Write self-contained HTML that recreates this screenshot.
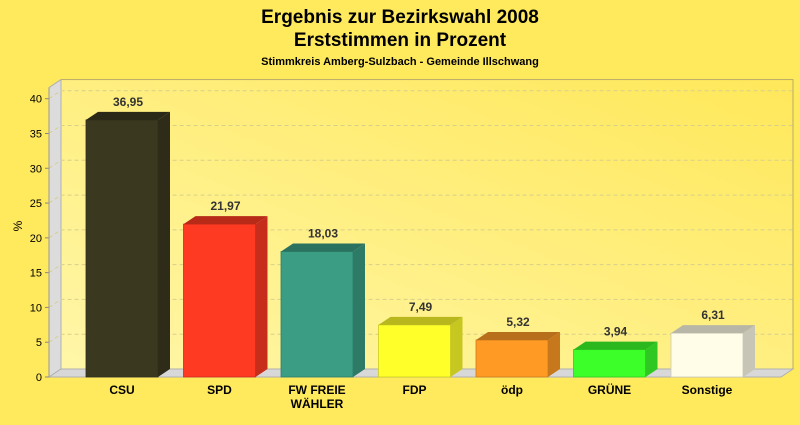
<!DOCTYPE html>
<html><head><meta charset="utf-8">
<style>
html,body{margin:0;padding:0;}
body{width:800px;height:420px;overflow:hidden;background:#ffe95c;font-family:"Liberation Sans",sans-serif;}
svg text{font-family:"Liberation Sans",sans-serif;}
</style></head>
<body>
<svg id="chart" width="800" height="420" xmlns="http://www.w3.org/2000/svg">
<defs>
<linearGradient id="bg" x1="0" y1="1" x2="1" y2="0">
<stop offset="0" stop-color="#fff6a8"/><stop offset="1" stop-color="#ffe85a"/>
</linearGradient>
</defs>
<text x="400" y="23" text-anchor="middle" font-size="19" font-weight="bold">Ergebnis zur Bezirkswahl 2008</text>
<text x="400" y="46" text-anchor="middle" font-size="19" font-weight="bold">Erststimmen in Prozent</text>
<text x="400" y="65" text-anchor="middle" font-size="11" font-weight="bold">Stimmkreis Amberg-Sulzbach - Gemeinde Illschwang</text>
<g id="plot"></g>
</svg>
<script>
const categories = ["CSU","SPD","FW FREIE|WÄHLER","FDP","ödp","GRÜNE","Sonstige"];
const values = [36.95,21.97,18.03,7.49,5.32,3.94,6.31];
const valueLabels = ["36,95","21,97","18,03","7,49","5,32","3,94","6,31"];
const colors = ["#3b3820","#ff3a22","#3a9d84","#ffff2a","#ff9a25","#3cff2a","#fffde8"];
const ticks = [0,5,10,15,20,25,30,35,40];

const NS="http://www.w3.org/2000/svg";
const g=document.getElementById('plot');
const x0=49,x1=781,dx=12,dy=-8,yBase=377,yTop=98.7,vMax=40;
const y=v=>yBase-(v/vMax)*(yBase-yTop);
const slot=97.5, firstCenter=x0+73;
const bw=72;
function el(t,a){const e=document.createElementNS(NS,t);for(const k in a)e.setAttribute(k,a[k]);g.appendChild(e);return e;}
function shade(c,f){const n=parseInt(c.slice(1),16);let r=n>>16,gg=(n>>8)&255,b=n&255;return `rgb(${Math.round(r*f)},${Math.round(gg*f)},${Math.round(b*f)})`;}

let e=el('rect',{x:x0+dx,y:y(41.6)+dy,width:x1-x0,height:yBase-y(41.6),fill:'url(#bg)',stroke:'#b9ad6a','stroke-width':1});


e=el('polygon',{points:`${x0},${yBase} ${x0},${y(41.6)} ${x0+dx},${y(41.6)+dy} ${x0+dx},${yBase+dy}`,fill:'#dcdcdc',stroke:'#b0b0b0','stroke-width':1});


e=el('polygon',{points:`${x0},${yBase} ${x0+dx},${yBase+dy} ${x1+dx},${yBase+dy} ${x1},${yBase}`,fill:'#d8d8d8',stroke:'#b0b0b0','stroke-width':1});


ticks.forEach(t=>{
 if(t>0){const l=el('polyline',{points:`${x0},${y(t)} ${x0+dx},${y(t)+dy} ${x1+dx},${y(t)+dy}`,fill:'none',stroke:'#d8cf8a','stroke-dasharray':'4,3','stroke-width':1});
 
 }
 const tk=el('line',{x1:x0-4,y1:y(t),x2:x0,y2:y(t),stroke:'#888'});
 
 
 const tx=el('text',{x:x0-7,y:y(t)+4,'text-anchor':'end','font-size':11});
 tx.textContent=t;
 
 
});
e=el('line',{x1:x0,y1:yBase,x2:x0,y2:y(41.6),stroke:'#999'});


const yt=el('text',{x:22,y:226,'text-anchor':'middle','font-size':12,transform:'rotate(-90 22 226)'});
yt.textContent='%';



categories.forEach((c,i)=>{
 const cx=firstCenter+slot*i;
 const bx=cx-bw/2, top=y(values[i]);
 const col=colors[i];
 const grp=document.createElementNS(NS,'g');g.appendChild(grp);
 
 
 const mk=(t,a)=>{const q=document.createElementNS(NS,t);for(const k in a)q.setAttribute(k,a[k]);grp.appendChild(q);return q;};
 mk('rect',{x:bx,y:top,width:bw,height:yBase-top,fill:col,stroke:shade(col,0.8),'stroke-width':0.8});
 mk('polygon',{points:`${bx+bw},${top} ${bx+bw+dx},${top+dy} ${bx+bw+dx},${yBase+dy} ${bx+bw},${yBase}`,fill:shade(col,0.78)});
 mk('polygon',{points:`${bx},${top} ${bx+dx},${top+dy} ${bx+bw+dx},${top+dy} ${bx+bw},${top}`,fill:shade(col,0.72)});
 const vl=el('text',{x:cx+6,y:top+dy-6,'text-anchor':'middle','font-size':12,'font-weight':'bold',fill:'#333'});
 vl.textContent=valueLabels[i];
 
 
 c.split('|').forEach((line,j)=>{
  const cl=el('text',{x:cx,y:394+j*14,'text-anchor':'middle','font-size':12,'font-weight':'bold'});
  cl.textContent=line;
  
  
 });
});
</script>
</body></html>
